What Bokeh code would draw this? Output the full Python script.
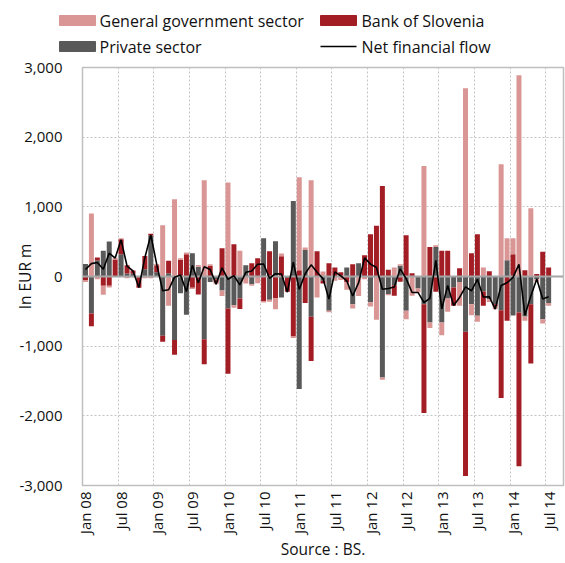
import numpy as np
from bokeh.plotting import figure
from bokeh.layouts import column
from bokeh.models import Range1d, FixedTicker, NumeralTickFormatter, Span
from bokeh.core.properties import value
from bokeh.embed import file_html
from bokeh.resources import INLINE

# Monthly financial flows, EUR m, Jan 2008 - Jul 2014 (axis runs to Sep 2014)
private_sector = [180, -530, 234, 368, 502, 0, 320, 43, 40, -10, 105, 590, 60,
                  -851, 48, -913, -239, -550, 335, 140, -900, -80, -40, -200,
                  -459, -411, -315, 160, -110, 0, 550, -335, 507, -300, -20, 1085,
                  -1616, 382, -578, 0, -60, -490, 0, 0, 130, -400, 191, 0,
                  -370, 0, -1450, -250, -124, 153, -492, 0, -172, -397, -660, 425,
                  -660, -315, -158, -80, -793, -397, -564, -215, -325, -400, -483, 234,
                  -560, -516, -574, -397, -40, -612, -382]
bank_of_slovenia = [-50, -185, 38, -134, -134, 245, 215, 120, 45, -150, 190, 25, 100,
                    -86, 177, -210, 239, 320, -160, -260, -358, 153, -50, 406,
                    -937, 464, -153, 0, 191, 263, -350, 363, -311, 292, -200, -860,
                    91, -382, -636, 363, -40, 191, 129, 60, -80, 177, 0, 306,
                    607, 730, 1300, 96, -153, -76, 593, 48, 0, -1563, 425, -220,
                    368, 368, -263, 120, -2071, 335, 607, -205, 76, -30, -1262, -636,
                    320, -2208, 91, -851, 35, 354, 129]
general_government = [-30, 905, -40, -129, -24, 24, 14, -24, -10, 0, -24, -25, 20,
                      736, -420, 1109, 24, 24, -20, 25, 1381, 24, -20, -81,
                      1348, -38, 368, -100, -24, -96, -24, -29, -158, 38, 0, -24,
                      1333, 33, 1381, -300, 70, -24, -60, -50, -110, -60, -280, -38,
                      -62, -620, -33, -20, 129, 24, -120, -277, -57, 1587, -81, 24,
                      -182, -191, 0, -340, 2703, -158, -86, 129, -40, -40, 1611, 315,
                      230, 2887, -62, 980, -30, -62, -38]
net_financial_flow = [100, 185, 200, 105, 335, 265, 526, 150, 80, -158, 270, 598, 175,
                      -205, -190, -10, 20, -215, 160, -90, 140, 100, -110, 125,
                      -40, 10, -120, 60, 80, 175, 180, -25, 40, 35, -225, 205,
                      -185, 40, 167, 60, -30, -325, 67, 10, -62, -280, -89, 268,
                      177, 129, -183, -172, -150, 110, -30, -229, -229, -373, -315, 232,
                      -465, -130, -415, -300, -150, -205, -40, -295, -290, -468, -130, -90,
                      -12, 175, -555, -280, -36, -322, -292]

tick_labels = ["Jan 08", "Jul 08", "Jan 09", "Jul 09", "Jan 10", "Jul 10", "Jan 11",
               "Jul 11", "Jan 12", "Jul 12", "Jan 13", "Jul 13", "Jan 14", "Jul 14"]
n_categories = 81          # Jan 08 .. Sep 14
y_ticks = [-3000, -2000, -1000, 0, 1000, 2000, 3000]

legend_labels = ["General government sector", "Bank of Slovenia",
                 "Private sector", "Net financial flow"]

COL_GOV = "#D99694"
COL_BOS = "#A31D24"
COL_PRIV = "#595959"
FONT = "Open Sans"
TEXT_COL = "#111111"

# ---------------- legend strip ----------------
leg = figure(width=565, height=56, x_range=Range1d(0, 565), y_range=Range1d(56, 0),
             output_backend="svg", toolbar_location=None,
             x_axis_location=None, y_axis_location=None, min_border=0)
leg.frame_align = False
leg.outline_line_color = None
leg.grid.visible = False
leg.rect(x=[77, 77, 338], y=[20, 46, 20], width=36, height=10,
         color=[COL_GOV, COL_PRIV, COL_BOS])
leg.line(x=[320, 356], y=[46, 46], line_color="black", line_width=1.6)
leg.text(x=[99, 361, 99, 361], y=[20, 20, 46, 46], text=legend_labels,
         text_baseline="middle", text_align="left",
         text_font=value(FONT), text_font_size="16px", text_color=TEXT_COL)

# ---------------- main chart ----------------
p = figure(width=565, height=507, x_range=Range1d(-0.5, n_categories - 0.5),
           y_range=Range1d(-3000, 3000), output_backend="svg", toolbar_location=None,
           min_border_left=82, min_border_right=2, min_border_top=11, min_border_bottom=76)
p.frame_align = False
p.outline_line_color = "#bfbfbf"
p.outline_line_width = 1.5

x = np.arange(len(net_financial_flow))
pos_base = np.zeros(len(x))
neg_base = np.zeros(len(x))
for series, colr in [(private_sector, COL_PRIV), (bank_of_slovenia, COL_BOS),
                     (general_government, COL_GOV)]:
    v = np.array(series, dtype=float)
    bottom = np.where(v >= 0, pos_base, neg_base + v)
    top = np.where(v >= 0, pos_base + v, neg_base)
    pos_base = pos_base + np.clip(v, 0, None)
    neg_base = neg_base + np.clip(v, None, 0)
    p.vbar(x=x, bottom=bottom, top=top, width=0.84, fill_color=colr, line_color=None)

p.add_layout(Span(location=0, dimension="width", line_color="#a6a6a6", line_width=2))
p.line(x=x, y=net_financial_flow, line_color="black", line_width=1.6, level="overlay")

# axes
xticks = [6 * k for k in range(len(tick_labels))]
p.xaxis.ticker = FixedTicker(ticks=xticks)
p.xaxis.major_label_overrides = {t: lab for t, lab in zip(xticks, tick_labels)}
p.xaxis.major_label_orientation = np.pi / 2
p.xaxis.axis_label = "Source : BS."
p.yaxis.ticker = FixedTicker(ticks=y_ticks)
p.yaxis.formatter = NumeralTickFormatter(format="0,0")
p.yaxis.axis_label = "In EUR m"

for ax in (p.xaxis[0], p.yaxis[0]):
    ax.axis_line_color = None
    ax.major_tick_line_color = None
    ax.minor_tick_line_color = None
    ax.major_tick_out = 0
    ax.major_tick_in = 0
    ax.major_label_text_font = FONT
    ax.major_label_text_color = TEXT_COL
    ax.axis_label_text_font = FONT
    ax.axis_label_text_font_style = "normal"
    ax.axis_label_text_color = TEXT_COL
    ax.axis_label_text_font_size = "15.5px"

p.xaxis.major_label_text_font_size = "15px"
p.xaxis.major_label_standoff = 6
p.xaxis.axis_label_standoff = 1
p.yaxis.major_label_text_font_size = "15px"
p.yaxis.major_label_standoff = 20
p.yaxis.axis_label_standoff = -20

p.xgrid.ticker = FixedTicker(ticks=[6 * k - 0.5 for k in range(1, 14)])
p.ygrid.ticker = FixedTicker(ticks=[-2000, -1000, 1000, 2000])
for g in (p.xgrid[0], p.ygrid[0]):
    g.grid_line_color = "#c4c4c4"
    g.grid_line_dash = "2 2"
    g.grid_line_width = 1

layout = column(leg, p, spacing=0)
open("out.html", "w").write(file_html(layout, INLINE))
